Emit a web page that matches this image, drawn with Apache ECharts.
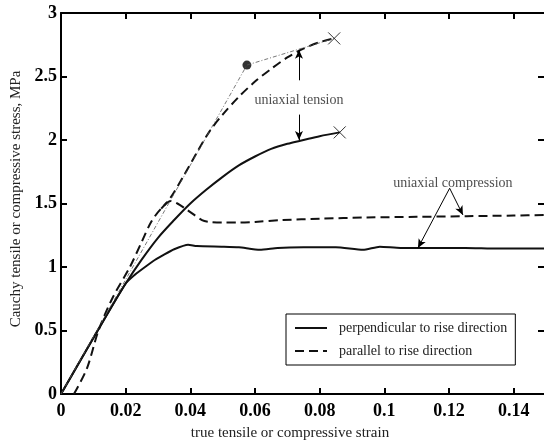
<!DOCTYPE html>
<html>
<head>
<meta charset="utf-8">
<script src="https://cdn.jsdelivr.net/npm/echarts@6/dist/echarts.min.js"></script>
<style>
  html, body { margin: 0; padding: 0; background: #fff; }
  #chart { width: 544px; height: 444px; }
</style>
</head>
<body>
<div id="chart"></div>
<script>
// strain / stress
const perpTensionX = [0, 0.005, 0.01, 0.015, 0.02, 0.025, 0.03, 0.035, 0.04, 0.045, 0.05, 0.055, 0.06, 0.065, 0.07, 0.075, 0.08, 0.0862]
const perpTensionY = [0, 0.22, 0.44, 0.66, 0.87, 1.06, 1.23, 1.37, 1.5, 1.61, 1.71, 1.8, 1.87, 1.93, 1.97, 2.0, 2.03, 2.06]

const perpCompX = [0, 0.01, 0.02, 0.0229, 0.026, 0.029, 0.032, 0.035, 0.0393, 0.042, 0.05, 0.055, 0.0615, 0.067, 0.075, 0.085, 0.0934, 0.0986, 0.105, 0.115, 0.125, 0.135, 0.15]
const perpCompY = [0, 0.44, 0.87, 0.94, 1.0, 1.055, 1.1, 1.14, 1.175, 1.165, 1.16, 1.155, 1.135, 1.15, 1.155, 1.155, 1.135, 1.16, 1.15, 1.15, 1.15, 1.145, 1.145]

const parCompX = [0.004, 0.008, 0.0116, 0.016, 0.0213, 0.025, 0.028, 0.031, 0.034, 0.036, 0.039, 0.0436, 0.046, 0.05, 0.055, 0.06, 0.0686, 0.08, 0.0946, 0.11, 0.1255, 0.14, 0.15]
const parCompY = [0, 0.2, 0.5, 0.76, 1.0, 1.2, 1.36, 1.46, 1.52, 1.5, 1.45, 1.37, 1.355, 1.35, 1.35, 1.355, 1.37, 1.38, 1.39, 1.395, 1.4, 1.405, 1.41]

const parTensionX = [0.031, 0.034, 0.038, 0.042, 0.046, 0.05, 0.055, 0.06, 0.065, 0.07, 0.075, 0.08, 0.0845]
const parTensionY = [1.46, 1.55, 1.72, 1.9, 2.07, 2.2, 2.34, 2.46, 2.56, 2.65, 2.72, 2.77, 2.8]

const guideX = [0, 0.0575, 0.0845]
const guideY = [0, 2.59, 2.8]

const failureX = [0.0845, 0.0862]
const failureY = [2.8, 2.06]
const dotX = [0.0575]
const dotY = [2.59]

const legendNames = ['perpendicular to rise direction', 'parallel to rise direction']
const xTitle = 'true tensile or compressive strain'
const yTitle = 'Cauchy tensile or compressive stress, MPa'

const noteTexts = ['uniaxial tension', 'uniaxial compression']
const noteX = [0.0736, 0.1212]
const noteY = [2.31, 1.66]

// arrows: [x1, y1, x2, y2]
const arrows = [
  [0.0736, 2.47, 0.0736, 2.71],
  [0.0736, 2.2, 0.0736, 2.0],
  [0.1202, 1.62, 0.1243, 1.41],
  [0.1202, 1.62, 0.1104, 1.15]
]

const zip = (xs, ys) => xs.map((x, i) => [x, ys[i]])

const serif = 'Liberation Serif'
const ink = '#111'
const dash = [9, 5]

const chart = echarts.init(document.getElementById('chart'))

const frameAxis = {
  axisLine: { show: true, onZero: false, lineStyle: { color: '#000', width: 2 } },
  axisTick: { show: true, inside: true, length: 6, lineStyle: { width: 2, color: '#000' } },
  splitLine: { show: false }
}

const option = {
  animation: false,
  grid: { left: 61, right: -2, top: 13, bottom: 50, outerBoundsMode: 'none', containLabel: false },
  legend: {
    data: legendNames,
    orient: 'vertical',
    left: 286,
    top: 314,
    width: 232,
    itemWidth: 32,
    itemHeight: 14,
    itemGap: 9,
    padding: [7, 8, 7, 8],
    borderColor: '#000',
    borderWidth: 1,
    selectedMode: false,
    itemStyle: { opacity: 0, borderWidth: 0 },
    textStyle: { fontFamily: serif, fontSize: 14, color: '#222', padding: [0, 0, 0, 7] }
  },
  xAxis: [
    Object.assign({}, frameAxis, {
      type: 'value', min: 0, max: 0.15, interval: 0.02,
      axisLabel: {
        fontFamily: serif, fontWeight: 'bold', fontSize: 18, color: '#000', margin: 8,
        showMaxLabel: false,
        formatter: v => String(+v.toFixed(2))
      }
    }),
    Object.assign({}, frameAxis, {
      type: 'value', position: 'top', min: 0, max: 0.15, interval: 0.02,
      axisLabel: { show: false }
    })
  ],
  yAxis: [
    Object.assign({}, frameAxis, {
      type: 'value', min: 0, max: 3, interval: 0.5,
      axisLabel: { fontFamily: serif, fontWeight: 'bold', fontSize: 18, color: '#000', margin: 4 }
    }),
    Object.assign({}, frameAxis, {
      type: 'value', position: 'right', min: 0, max: 3, interval: 0.5,
      axisTick: { show: true, inside: true, length: 8, lineStyle: { width: 2, color: '#000' } },
      axisLabel: { show: false }
    })
  ],
  series: [
    {
      name: legendNames[0], type: 'line', symbol: 'none', smooth: 0.3,
      data: zip(perpTensionX, perpTensionY),
      lineStyle: { color: ink, width: 2, type: 'solid' }, itemStyle: { color: ink }
    },
    {
      name: legendNames[0], type: 'line', symbol: 'none', smooth: 0.2,
      data: zip(perpCompX, perpCompY),
      lineStyle: { color: ink, width: 2, type: 'solid' }, itemStyle: { color: ink }
    },
    {
      name: legendNames[1], type: 'line', symbol: 'none', smooth: 0.3,
      data: zip(parCompX, parCompY),
      lineStyle: { color: ink, width: 2, type: dash }, itemStyle: { color: ink }
    },
    {
      name: legendNames[1], type: 'line', symbol: 'none', smooth: 0.3,
      data: zip(parTensionX, parTensionY),
      lineStyle: { color: ink, width: 2, type: dash }, itemStyle: { color: ink }
    },
    {
      name: 'guide', type: 'line', symbol: 'none',
      data: zip(guideX, guideY),
      lineStyle: { color: '#555', width: 0.8, type: [4, 2, 1, 2] }
    },
    {
      name: 'failure', type: 'scatter',
      symbol: 'path://M0,0L10,10M10,0L0,10', symbolSize: 12,
      data: zip(failureX, failureY),
      itemStyle: { color: 'rgba(0,0,0,0)', borderColor: '#000', borderWidth: 1 }
    },
    {
      name: 'dot', type: 'scatter', symbol: 'circle', symbolSize: 9,
      data: zip(dotX, dotY),
      itemStyle: { color: '#000' }
    },
    {
      name: 'notes', type: 'scatter', symbolSize: 0, silent: true,
      data: noteTexts.map((t, i) => ({ value: [noteX[i], noteY[i]], label: { formatter: t } })),
      label: { show: true, position: 'inside', fontFamily: serif, fontSize: 14, color: '#222' },
      markLine: {
        silent: true,
        symbol: ['none', 'arrow'],
        symbolSize: [6, 9],
        label: { show: false },
        lineStyle: { color: '#000', width: 1, type: 'solid' },
        data: arrows.map(a => [{ coord: [a[0], a[1]] }, { coord: [a[2], a[3]] }])
      }
    },
    {
      // keeps the top and right frame axes alive
      name: 'frame', type: 'line', xAxisIndex: 1, yAxisIndex: 1, symbol: 'none',
      data: [[0, 0]], lineStyle: { opacity: 0 }, silent: true
    }
  ],
  graphic: [
    {
      type: 'text', x: 290, y: 433,
      style: { text: xTitle, fontFamily: serif, fontSize: 15, fill: '#222', align: 'center', verticalAlign: 'middle' }
    },
    {
      type: 'text', x: 16, y: 199, rotation: Math.PI / 2,
      style: { text: yTitle, fontFamily: serif, fontSize: 15, fill: '#222', align: 'center', verticalAlign: 'middle' }
    }
  ]
}

chart.setOption(option)
</script>
</body>
</html>
